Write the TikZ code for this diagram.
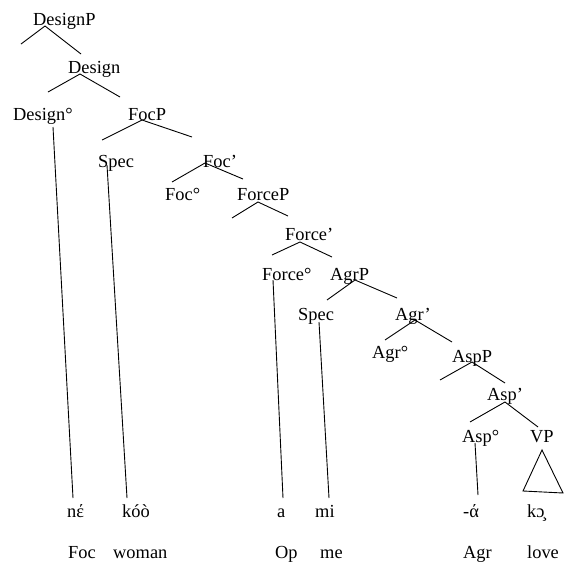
\documentclass[tikz,border=0pt]{standalone}
\usepackage{fontspec}
\setmainfont{Liberation Serif}
\begin{document}
\begin{tikzpicture}[x=1pt,y=-1pt,
  lbl/.style={inner sep=0pt,anchor=base west,font=\fontsize{18.4}{22}\selectfont},
  edge/.style={line width=0.9pt,black}]
\useasboundingbox (0,0) rectangle (564,562);

% category labels (left edge, baseline)
\node[lbl] (DesignP) at (33,25)  {DesignP};
\node[lbl] (Design)  at (68,73)  {Design};
\node[lbl] (Design0) at (13,120) {Design°};
\node[lbl] (FocP)    at (128,120){FocP};
\node[lbl] (Spec1)   at (98,167) {Spec};
\node[lbl] (FocB)    at (203,167){Foc’};
\node[lbl] (Foc0)    at (165,200){Foc°};
\node[lbl] (ForceP)  at (237,200){ForceP};
\node[lbl] (ForceB)  at (285,240){Force’};
\node[lbl] (Force0)  at (262,280){Force°};
\node[lbl] (AgrP)    at (330,280){AgrP};
\node[lbl] (Spec2)   at (298,320){Spec};
\node[lbl] (AgrB)    at (395,320){Agr’};
\node[lbl] (Agr0)    at (372,358){Agr°};
\node[lbl] (AspP)    at (452,362){AspP};
\node[lbl] (AspB)    at (487,400){Asp’};
\node[lbl] (Asp0)    at (462,442){Asp°};
\node[lbl] (VP)      at (530,442){VP};

% words and glosses
\node[lbl] (w1) at (67,517)  {nέ};
\node[lbl] (w2) at (122,517) {kóò};
\node[lbl] (w3) at (277,517) {a};
\node[lbl] (w4) at (315,517) {mi};
\node[lbl] (w5) at (463,517) {-ά};
\node[lbl] (w6) at (527,517) {kɔ̧};
\node[lbl] (g1) at (68,558)  {Foc};
\node[lbl] (g2) at (113,558) {woman};
\node[lbl] (g3) at (275,558) {Op};
\node[lbl] (g4) at (320,558) {me};
\node[lbl] (g5) at (463,558) {Agr};
\node[lbl] (g6) at (527,558) {love};

% branch points and branch ends
\coordinate (dpB) at (45,26);  \coordinate (dpL) at (21,44);   \coordinate (dpR) at (81,54);
\coordinate (dB)  at (80,74);  \coordinate (dL)  at (48,92);   \coordinate (dR)  at (120,97);
\coordinate (fpB) at (142,120);\coordinate (fpL) at (102,140); \coordinate (fpR) at (192,137);
\coordinate (fbB) at (205,163);\coordinate (fbL) at (172,182); \coordinate (fbR) at (243,179);
\coordinate (rpB) at (258,202);\coordinate (rpL) at (232,218); \coordinate (rpR) at (288,216);
\coordinate (rbB) at (300,242);\coordinate (rbL) at (272,255); \coordinate (rbR) at (332,257);
\coordinate (apB) at (355,280);\coordinate (apL) at (327,300); \coordinate (apR) at (397,298);
\coordinate (abB) at (415,320);\coordinate (abL) at (385,340); \coordinate (abR) at (452,342);
\coordinate (spB) at (472,362);\coordinate (spL) at (440,380); \coordinate (spR) at (505,383);
\coordinate (sbB) at (505,402);\coordinate (sbL) at (470,422); \coordinate (sbR) at (538,427);

\foreach \p in {dp,d,fp,fb,rp,rb,ap,ab,sp,sb}
  \draw[edge] (\p L) -- (\p B) -- (\p R);

% lines from heads and specifiers down to the words
\coordinate (v1t) at (53,127);  \coordinate (v1b) at (73,498);
\coordinate (v2t) at (107,165); \coordinate (v2b) at (127,498);
\coordinate (v3t) at (273,280); \coordinate (v3b) at (283,498);
\coordinate (v4t) at (319,322); \coordinate (v4b) at (329,498);
\coordinate (v5t) at (475,443); \coordinate (v5b) at (478,495);
\foreach \i in {1,...,5}
  \draw[edge] (v\i t) -- (v\i b);

% VP triangle
\coordinate (tA) at (542,450);
\coordinate (tL) at (523,491);
\coordinate (tR) at (563,493);
\draw[edge] (tA) -- (tL) -- (tR) -- cycle;
\end{tikzpicture}
\end{document}
